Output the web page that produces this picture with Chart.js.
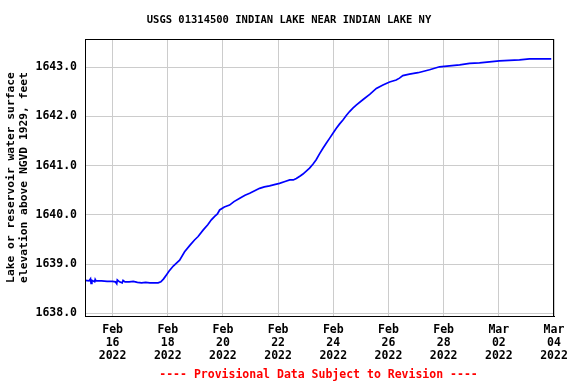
<!DOCTYPE html>
<html lang="en">
<head>
<meta charset="UTF-8">
<title>USGS 01314500 Indian Lake near Indian Lake NY</title>
<script src="https://cdn.jsdelivr.net/npm/chart.js"></script>
<style>
  html, body { margin: 0; padding: 0; background: #fff; }
</style>
</head>
<body>
<canvas id="grafico" width="576" height="384"></canvas>
<script>
// dias desde 15/fev/2022 00:00 e cota do lago (pés, NGVD 1929)
const dias = [
  0.00, 0.15, 0.20, 0.22, 0.25, 0.35, 0.37, 0.40, 0.60, 0.80,
  1.00, 1.10, 1.15, 1.17, 1.25, 1.35, 1.38, 1.45, 1.60, 1.75,
  1.90, 2.05, 2.20, 2.35, 2.50, 2.65, 2.75, 2.85, 2.95, 3.05,
  3.20, 3.43, 3.61, 3.80, 3.97, 4.10, 4.28, 4.45, 4.58, 4.70,
  4.80, 4.88, 5.05, 5.24, 5.40, 5.61, 5.80, 5.97, 6.15, 6.33,
  6.50, 6.69, 6.90, 7.05, 7.25, 7.42, 7.55, 7.66, 7.80, 7.90,
  8.00, 8.14, 8.26, 8.38, 8.50, 8.62, 8.75, 8.87, 9.00, 9.11,
  9.23, 9.35, 9.47, 9.59, 9.71, 9.83, 10.07, 10.32, 10.56, 10.80,
  11.04, 11.28, 11.40, 11.52, 11.76, 12.07, 12.49, 12.85, 13.21, 13.58,
  13.94, 14.30, 14.66, 15.02, 15.38, 15.75, 16.11, 16.47, 16.90
];
const cotas = [
  1638.67, 1638.66, 1638.70, 1638.61, 1638.67, 1638.64, 1638.69, 1638.66, 1638.66, 1638.65,
  1638.65, 1638.64, 1638.60, 1638.68, 1638.64, 1638.62, 1638.67, 1638.64, 1638.64, 1638.65,
  1638.63, 1638.62, 1638.63, 1638.62, 1638.62, 1638.62, 1638.64, 1638.70, 1638.78, 1638.86,
  1638.96, 1639.08, 1639.25, 1639.38, 1639.49, 1639.56, 1639.69, 1639.80, 1639.90, 1639.97,
  1640.02, 1640.10, 1640.16, 1640.20, 1640.27, 1640.34, 1640.40, 1640.44, 1640.49, 1640.54,
  1640.57, 1640.59, 1640.62, 1640.64, 1640.68, 1640.71, 1640.71, 1640.74, 1640.79, 1640.83,
  1640.88, 1640.95, 1641.03, 1641.12, 1641.24, 1641.35, 1641.46, 1641.56, 1641.67, 1641.76,
  1641.85, 1641.93, 1642.02, 1642.10, 1642.17, 1642.23, 1642.34, 1642.45, 1642.57, 1642.64,
  1642.70, 1642.74, 1642.78, 1642.83, 1642.86, 1642.89, 1642.95, 1643.01, 1643.03, 1643.05,
  1643.08, 1643.09, 1643.11, 1643.13, 1643.14, 1643.15, 1643.17, 1643.17, 1643.17
];

// marcas do eixo x (dias desde 15/fev) e seus rótulos
const diasMarcas = [1, 3, 5, 7, 9, 11, 13, 15, 17];
const rotulosMarcas = [
  'Feb 16 2022', 'Feb 18 2022', 'Feb 20 2022', 'Feb 22 2022', 'Feb 24 2022',
  'Feb 26 2022', 'Feb 28 2022', 'Mar 02 2022', 'Mar 04 2022'
];
const cotasMarcas = [1638, 1639, 1640, 1641, 1642, 1643];

const titulo = 'USGS 01314500 INDIAN LAKE NEAR INDIAN LAKE NY';
const tituloEixoY = ['Lake or reservoir water surface', 'elevation above NGVD 1929, feet'];
const rodape = '---- Provisional Data Subject to Revision ----';

const fonte = "'DejaVu Sans Mono', monospace";

const pontos = [];
for (let i = 0; i < dias.length; i++) {
  pontos.push({ x: dias[i], y: cotas[i] });
}

// título, moldura e aviso em vermelho
const textosExtras = {
  id: 'textosExtras',
  afterDraw(chart) {
    const { ctx, chartArea } = chart;
    ctx.save();
    ctx.strokeStyle = '#000';
    ctx.lineWidth = 1;
    ctx.strokeRect(chartArea.left + 0.5, chartArea.top + 0.5,
      chartArea.right - chartArea.left - 1, chartArea.bottom - chartArea.top);

    ctx.textAlign = 'center';
    ctx.textBaseline = 'middle';
    ctx.fillStyle = '#000';
    ctx.font = 'bold 10.5px ' + fonte;
    ctx.fillText(titulo, 289, 20);

    ctx.fillStyle = '#ff0000';
    ctx.font = 'bold 11.5px ' + fonte;
    ctx.fillText(rodape, (chartArea.left + chartArea.right) / 2 - 1, 375);
    ctx.restore();
  }
};

const ctx = document.getElementById('grafico').getContext('2d');

new Chart(ctx, {
  type: 'line',
  data: {
    datasets: [{
      data: pontos,
      borderColor: '#0000ff',
      borderWidth: 1.7,
      pointRadius: 0,
      tension: 0,
      fill: false
    }]
  },
  options: {
    responsive: false,
    animation: false,
    devicePixelRatio: 1,
    layout: { padding: { left: 0, right: 22, top: 39, bottom: 20 } },
    plugins: {
      legend: { display: false },
      tooltip: { enabled: false }
    },
    scales: {
      x: {
        type: 'linear',
        min: 0,
        max: 17,
        afterBuildTicks: function (escala) {
          escala.ticks = diasMarcas.map(function (v) { return { value: v }; });
        },
        afterFit: function (escala) { escala.height = 48; },
        grid: { color: '#cccccc', drawTicks: false },
        border: { color: '#000', width: 1 },
        ticks: {
          autoSkip: false,
          maxRotation: 0,
          padding: 7.5,
          color: '#000',
          font: { family: fonte, size: 11.5, weight: 'bold', lineHeight: '13px' },
          callback: function (valor, indice) {
            return rotulosMarcas[indice].split(' ');
          }
        }
      },
      y: {
        min: 1637.945,
        max: 1643.575,
        afterBuildTicks: function (escala) {
          escala.ticks = cotasMarcas.map(function (v) { return { value: v }; });
        },
        afterFit: function (escala) { escala.width = 85; },
        grid: { color: '#cccccc', drawTicks: false },
        border: { color: '#000', width: 1 },
        ticks: {
          padding: 8,
          color: '#000',
          font: { family: fonte, size: 11.5, weight: 'bold' },
          callback: function (valor) { return Number(valor).toFixed(1); }
        },
        title: {
          display: true,
          text: tituloEixoY,
          color: '#000',
          font: { family: fonte, size: 11.3, weight: 'bold', lineHeight: '13.5px' },
          padding: { top: 4.3, bottom: 0 }
        }
      }
    }
  },
  plugins: [textosExtras]
});
</script>
</body>
</html>
